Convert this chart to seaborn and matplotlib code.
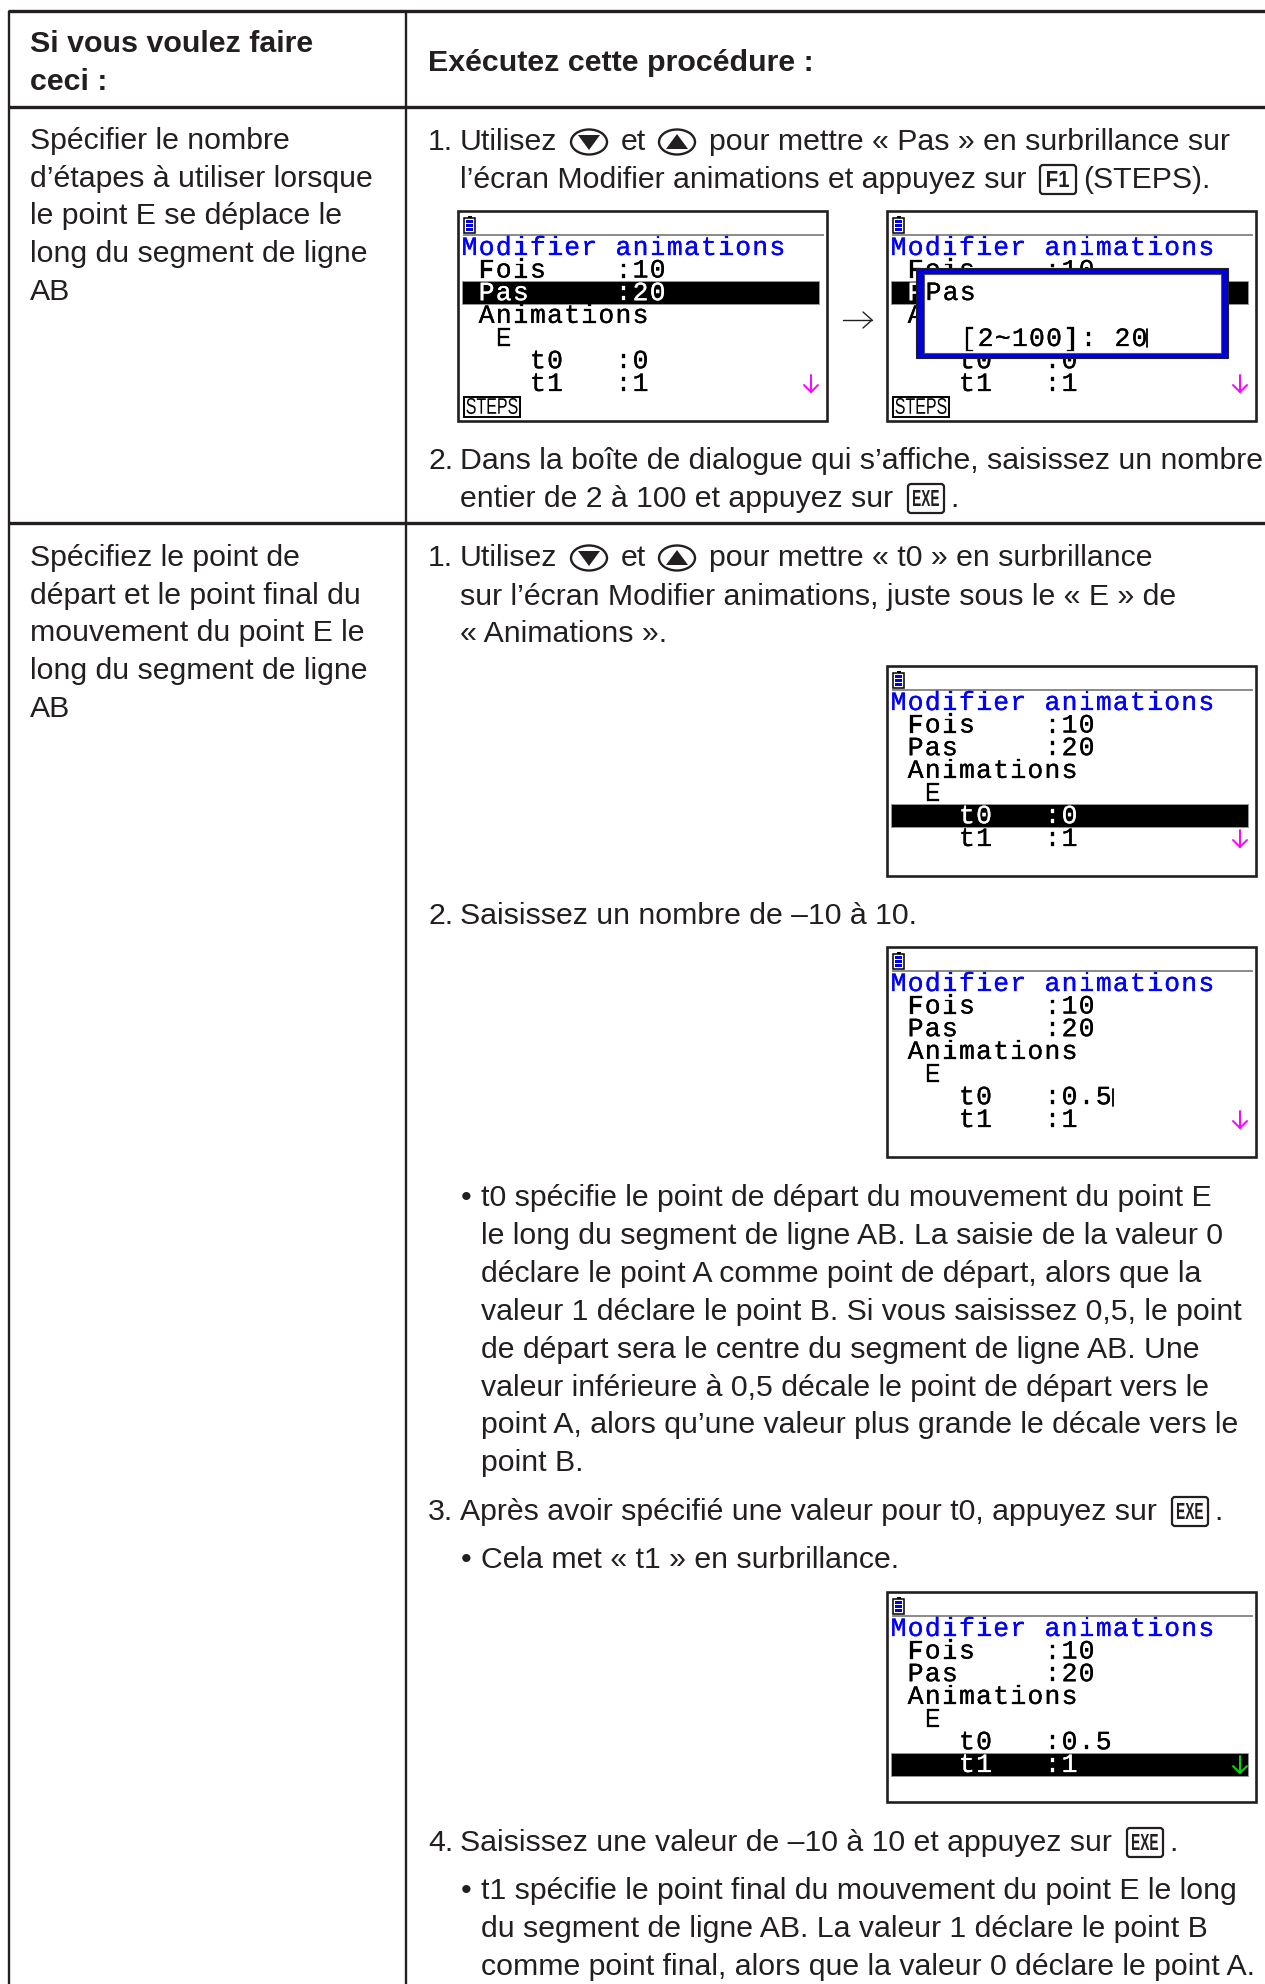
import matplotlib
matplotlib.use("Agg")
import matplotlib.pyplot as plt
import matplotlib.patheffects as pe
import seaborn as sns
from matplotlib.font_manager import FontProperties
from matplotlib.patches import Ellipse, FancyBboxPatch, PathPatch, Polygon, Rectangle
from matplotlib.textpath import TextPath
from matplotlib.transforms import Affine2D

sns.set_theme(style="white")
plt.rcParams["font.family"] = ["Liberation Sans", "DejaVu Sans"]

INK = "#231f20"
BODY_PT = 21.8
BOLD_PT = 21.85
SCREEN_PT = 19
W, H = 1265, 1984

# texts
HEADER_LEFT = ["Si vous voulez faire", "ceci :"]
HEADER_RIGHT = "Exécutez cette procédure :"
LEFT_ROW1 = ["Spécifier le nombre", "d’étapes à utiliser lorsque", "le point E se déplace le",
             "long du segment de ligne", "AB"]
LEFT_ROW2 = ["Spécifiez le point de", "départ et le point final du", "mouvement du point E le",
             "long du segment de ligne", "AB"]
NUMBERS = ["1.", "2.", "1.", "2.", "3.", "4."]
STEP_LINES = ["Dans la boîte de dialogue qui s’affiche, saisissez un nombre",
              "entier de 2 à 100 et appuyez sur",
              "sur l’écran Modifier animations, juste sous le « E » de",
              "« Animations ».",
              "Saisissez un nombre de –10 à 10.",
              "Après avoir spécifié une valeur pour t0, appuyez sur",
              "Saisissez une valeur de –10 à 10 et appuyez sur"]
T0_BULLET = ["t0 spécifie le point de départ du mouvement du point E",
             "le long du segment de ligne AB. La saisie de la valeur 0",
             "déclare le point A comme point de départ, alors que la",
             "valeur 1 déclare le point B. Si vous saisissez 0,5, le point",
             "de départ sera le centre du segment de ligne AB. Une",
             "valeur inférieure à 0,5 décale le point de départ vers le",
             "point A, alors qu’une valeur plus grande le décale vers le",
             "point B."]
T1_MSG = "Cela met « t1 » en surbrillance."
T1_BULLET = ["t1 spécifie le point final du mouvement du point E le long",
             "du segment de ligne AB. La valeur 1 déclare le point B",
             "comme point final, alors que la valeur 0 déclare le point A."]
USE_ENDS = ["pour mettre « Pas » en surbrillance sur", "pour mettre « t0 » en surbrillance"]

# screens
TITLE = "Modifier animations"
ROWS_BASE = [" Fois    :10", " Pas     :20", " Animations", "  E"]
T0_VALUES = ["0", "0", "0", "0.5", "0.5"]
HIGHLIGHT = [1, 1, 4, None, 5]      # row on the screen
HAS_STEPS = [True, True, False, False, False]
ARROW_COLORS = ["#ff00ff", "#ff00ff", "#ff00ff", "#ff00ff", "#00e000"]

# layout, pixels
SCREEN_X = [458, 887, 887, 887, 887]
SCREEN_Y = [211, 211, 666, 947, 1592]
H_RULES = [10.5, 107, 523]
V_RULES = [9, 406]
NUM_X, STEP_X, BULLET_X, BULLET_TEXT_X = 428, 460, 461, 481
LEFT_X = 30


def text(ax, x, y, s, weight="normal", size=BODY_PT, color=INK, **kw):
    ax.text(x, y, s, fontsize=size, fontweight=weight, color=color, va="baseline", **kw)


def narrow(ax, cx, base, s, height_px, width_px, weight="bold", color=INK, zorder=5):
    # squeezed key-cap lettering, matplotlib has no condensed face here
    tp = TextPath((0, 0), s, size=10, prop=FontProperties(family="Liberation Sans", weight=weight))
    box = tp.get_extents()
    tr = Affine2D().translate(-box.x0, -box.y0).scale(width_px / box.width, -height_px / box.height)
    tr = tr.translate(cx - width_px / 2, base)
    ax.add_patch(PathPatch(tp, transform=tr + ax.transData, fc=color, ec="none", zorder=zorder))


def arrow_key(ax, cx, cy, up):
    ax.add_patch(Ellipse((cx, cy), 36, 25, fc="white", ec=INK, lw=1.7))
    s = -1 if up else 1
    ax.add_patch(Polygon([(cx - 11, cy - 7 * s), (cx + 11, cy - 7 * s), (cx, cy + 8 * s)], fc=INK, ec="none"))


def key(ax, x0, base, label, width=36, inner=26):
    ax.add_patch(FancyBboxPatch((x0 + 3, base - 20), width - 6, 23, boxstyle="round,pad=3",
                                fc="white", ec=INK, lw=1.6))
    narrow(ax, x0 + width / 2, base - 1, label, 16, inner)


def mono(ax, x, base, s, color="black", zorder=3):
    # the calculator font sits on a fixed cell grid
    for i, ch in enumerate(s):
        if ch != " ":
            t = ax.text(x + 3 + (i + 0.5) * 17.1, base, ch, fontsize=SCREEN_PT, family="Liberation Mono",
                        color=color, ha="center", va="baseline", zorder=zorder)
            t.set_path_effects([pe.withStroke(linewidth=0.2, foreground=color)])


def battery(ax, x, y):
    ax.add_patch(Rectangle((x + 6, y + 7), 11, 15, fc="white", ec="black", lw=1.1))
    ax.add_patch(Rectangle((x + 9.5, y + 4.5), 4, 2.5, fc="black", ec="none"))
    for dy in (9, 13, 17):
        ax.add_patch(Rectangle((x + 8, y + dy), 7, 2.6, fc="#0000e0", ec="none"))


def screen(ax, idx):
    x, y = SCREEN_X[idx], SCREEN_Y[idx]
    ax.add_patch(Rectangle((x, y), 369, 210, fc="white", ec=INK, lw=1.9))
    battery(ax, x, y)
    ax.plot([x + 5, x + 366], [y + 24, y + 24], color="#777777", lw=1.2, solid_capstyle="butt")
    mono(ax, x, y + 44, TITLE, "#0000ff")
    rows = ROWS_BASE + ["    t0   :" + T0_VALUES[idx], "    t1   :1"]
    for r, row in enumerate(rows):
        base = y + 66.5 + 22.7 * r
        on = HIGHLIGHT[idx] == r
        if on:
            ax.add_patch(Rectangle((x + 4, base - 19), 357, 23, fc="black", ec="#999999", lw=0.6))
        mono(ax, x, base, row, "white" if on else "black")
        if r == 5:
            c = ARROW_COLORS[idx]
            ax.plot([x + 353, x + 353], [base - 16, base + 1], color=c, lw=1.4)
            ax.plot([x + 346, x + 353, x + 360], [base - 6, base + 1, base - 6], color=c, lw=1.4)
    if HAS_STEPS[idx]:
        ax.add_patch(Rectangle((x + 6, y + 186), 56, 20, fc="white", ec="black", lw=1.4))
        narrow(ax, x + 34, y + 203, "STEPS", 16, 51, weight="normal", color="black")
    if idx == 3:
        ax.plot([x + 226, x + 226], [y + 142, y + 159], color="black", lw=1.3)


def dialog(ax, x, y):
    ax.add_patch(Rectangle((x + 29, y + 57), 312, 90, fc="#0000d8", ec=INK, lw=0.8, zorder=4))
    ax.add_patch(Rectangle((x + 37, y + 63), 297, 79, fc="white", ec="#555555", lw=0.8, zorder=4))
    mono(ax, x + 35, y + 89, "Pas", zorder=5)
    mono(ax, x + 70, y + 135, "[2~100]: 20", zorder=5)
    ax.plot([x + 260, x + 260], [y + 118, y + 136], color="black", lw=1.3, zorder=5)


fig = plt.figure(figsize=(W / 100, H / 100), dpi=100, facecolor="white")
ax = fig.add_axes([0, 0, 1, 1])
ax.set_xlim(0, W)
ax.set_ylim(H, 0)
ax.axis("off")

for yy in H_RULES:
    ax.plot([V_RULES[0] - 1, W], [yy, yy], color=INK, lw=2.4, solid_capstyle="butt")
for xx in V_RULES:
    ax.plot([xx, xx], [H_RULES[0], H], color=INK, lw=1.7, solid_capstyle="butt")

text(ax, LEFT_X, 52, HEADER_LEFT[0], weight="bold", size=BOLD_PT)
text(ax, LEFT_X, 90, HEADER_LEFT[1], weight="bold", size=BOLD_PT)
text(ax, NUM_X, 71, HEADER_RIGHT, weight="bold", size=BOLD_PT)

for i, s in enumerate(LEFT_ROW1):
    text(ax, LEFT_X, 149 + 37.7 * i, s)
for i, s in enumerate(LEFT_ROW2):
    text(ax, LEFT_X, 566 + 37.7 * i, s)

# numbered steps
NUM_BASE = [150, 469, 566, 924, 1520, 1851]
for s, b in zip(NUMBERS, NUM_BASE):
    text(ax, NUM_X, b, s)

for b, end in zip((150, 566), USE_ENDS):
    text(ax, STEP_X, b, "Utilisez")
    arrow_key(ax, 589, b - 8, False)
    text(ax, 621, b, "et")
    arrow_key(ax, 677, b - 8, True)
    text(ax, 709, b, end)

text(ax, STEP_X, 188, "l’écran Modifier animations et appuyez sur")
key(ax, 1040, 188, "F1", inner=22)
text(ax, 1083, 188, "(STEPS).")

STEP_BASE = [469, 507, 605, 642, 924, 1520, 1851]
for s, b in zip(STEP_LINES, STEP_BASE):
    text(ax, STEP_X, b, s)

for x0, b in ((908, 507), (1172, 1520), (1127, 1851)):
    key(ax, x0, b, "EXE")
    text(ax, x0 + 42, b, ".")

for i, s in enumerate(T0_BULLET):
    text(ax, BULLET_TEXT_X, 1206 + 37.9 * i, s)
text(ax, BULLET_X, 1206, "•")
text(ax, BULLET_X, 1568, "•")
text(ax, BULLET_TEXT_X, 1568, T1_MSG)
text(ax, BULLET_X, 1899, "•")
for s, b in zip(T1_BULLET, (1899, 1937, 1975)):
    text(ax, BULLET_TEXT_X, b, s)

for i in range(5):
    screen(ax, i)
dialog(ax, SCREEN_X[1], SCREEN_Y[1])

# arrow between the two first screens
ax.plot([843, 872], [320, 320], color=INK, lw=1.0)
ax.plot([863, 872, 863], [312, 320, 328], color=INK, lw=1.0)

fig.savefig("out.png", dpi=100)
